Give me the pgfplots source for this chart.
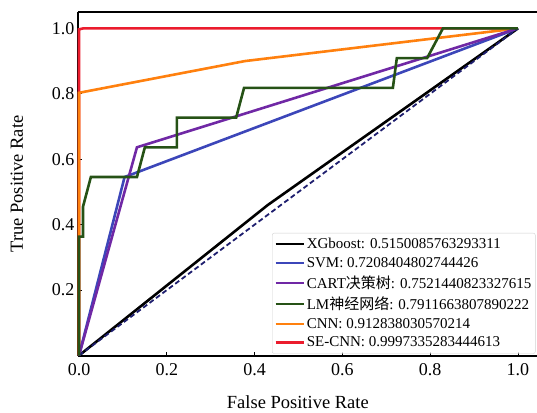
\documentclass[border=0pt]{standalone}
\usepackage{fontspec}
\setmainfont{Liberation Serif}
\newfontfamily\cjk{Noto Sans CJK SC}
\usepackage{pgfplots}
\pgfplotsset{compat=1.18}

\definecolor{cblue}{RGB}{60,70,185}
\definecolor{cpurple}{RGB}{112,40,165}
\definecolor{cgreen}{RGB}{38,82,22}
\definecolor{corange}{RGB}{255,128,14}
\definecolor{cred}{RGB}{235,28,45}
\definecolor{cnavy}{RGB}{30,30,110}

\begin{document}
\begin{tikzpicture}
\begin{axis}[
    name=ax,
    scale only axis,
    width=459pt, height=344pt,
    xmin=-0.0023, xmax=1.0433,
    ymin=-0.0015, ymax=1.05,
    axis x line*=bottom, axis y line*=left,
    axis line style={line width=1.1pt, black, -},
    clip=false,
    tick align=inside,
    major tick length=4pt,
    tick style={line width=0.8pt, black},
    xtick={0,0.2,0.4,0.6,0.8,1.0},
    ytick={0.2,0.4,0.6,0.8,1.0},
    /pgf/number format/assume math mode=true,
    /pgf/number format/fixed,
    /pgf/number format/fixed zerofill,
    /pgf/number format/precision=1,
    tick label style={font=\fontsize{18}{18}\selectfont},
    x tick label style={yshift=-4pt},
    xlabel={False Positive Rate},
    ylabel={True Positive Rate},
    label style={font=\fontsize{18.5}{18}\selectfont},
    xlabel style={at={(axis description cs:0.479,-0.1337)}, anchor=center},
    ylabel style={at={(axis description cs:-0.133,0.5)}, anchor=center},
    legend style={
        at={(axis description cs:0.4227,0.3576)}, anchor=north west,
        font=\fontsize{15}{18}\selectfont,
        draw=gray!35, rounded corners=2pt,
        fill=white, fill opacity=0.8, text opacity=1,
        inner xsep=2pt, inner ysep=3pt,
        row sep=3.1pt
    },
    legend cell align=left,
    legend image code/.code={\draw[#1] (0pt,0pt) -- (28pt,0pt);},
]

% legend in the original order
\addlegendimage{black, line width=2.6pt}
\addlegendentry{XGboost: 0.5150085763293311}
\addlegendimage{cblue, line width=2.6pt}
\addlegendentry{SVM: 0.7208404802744426}
\addlegendimage{cpurple, line width=2.6pt}
\addlegendentry{CART{\cjk 决策树}: 0.7521440823327615}
\addlegendimage{cgreen, line width=2.6pt}
\addlegendentry{LM{\cjk 神经网络}: 0.7911663807890222}
\addlegendimage{corange, line width=2.6pt}
\addlegendentry{CNN: 0.912838030570214}
\addlegendimage{cred, line width=2.6pt}
\addlegendentry{SE-CNN: 0.9997335283444613}

% curves
\addplot[cred, line width=2.6pt, forget plot] coordinates {
    (0,0) (0,0.997) (0.01,1) (1,1)
};
\addplot[corange, line width=2.6pt, forget plot] coordinates {
    (0,0) (0,0.803) (0.378,0.9) (1,1)
};
\addplot[black, line width=2.6pt, forget plot] coordinates {
    (0,0) (0.43,0.46) (1,1)
};
\addplot[cblue, line width=2.6pt, forget plot] coordinates {
    (0,0) (0.1038,0.5455) (1,1)
};
\addplot[cpurple, line width=2.6pt, forget plot] coordinates {
    (0,0) (0.132,0.6364) (1,1)
};
\addplot[cnavy, line width=1.8pt, dash pattern=on 5pt off 3pt, forget plot] coordinates {
    (0,0) (1,1)
};
\addplot[cgreen, line width=2.6pt, forget plot] coordinates {
    (0,0) (0,0.3636) (0.009,0.3636) (0.009,0.4545) (0.027,0.5455)
    (0.132,0.5455) (0.15,0.6364) (0.223,0.6364) (0.223,0.7273)
    (0.358,0.7273) (0.376,0.8182) (0.715,0.8182) (0.724,0.9091)
    (0.793,0.9091) (0.829,1) (1,1)
};

\draw[line width=1.1pt, black] (rel axis cs:0,1) -- (rel axis cs:1,1);
\end{axis}
\pgfresetboundingbox
\path[use as bounding box] ([xshift=-78pt,yshift=-57pt]ax.south west) rectangle ([yshift=12pt]ax.north east);
\end{tikzpicture}
\end{document}
